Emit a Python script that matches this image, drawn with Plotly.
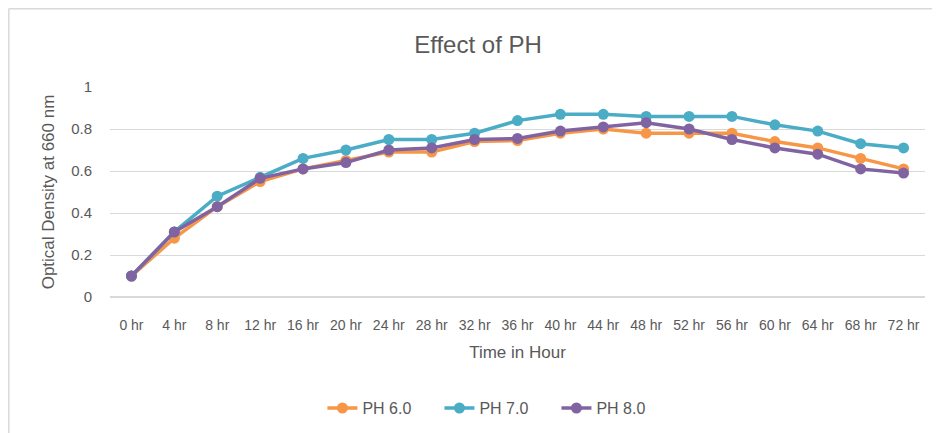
import plotly.graph_objects as go

hours = ["0 hr", "4 hr", "8 hr", "12 hr", "16 hr", "20 hr", "24 hr", "28 hr", "32 hr", "36 hr",
         "40 hr", "44 hr", "48 hr", "52 hr", "56 hr", "60 hr", "64 hr", "68 hr", "72 hr"]
ph6 = [0.10, 0.28, 0.43, 0.55, 0.61, 0.65, 0.69, 0.69, 0.74, 0.745, 0.78, 0.80, 0.78, 0.78, 0.78, 0.74, 0.71, 0.66, 0.61]
ph7 = [0.10, 0.31, 0.48, 0.57, 0.66, 0.70, 0.75, 0.75, 0.78, 0.84, 0.87, 0.87, 0.86, 0.86, 0.86, 0.82, 0.79, 0.73, 0.71]
ph8 = [0.10, 0.31, 0.43, 0.565, 0.61, 0.64, 0.70, 0.71, 0.75, 0.755, 0.79, 0.81, 0.83, 0.80, 0.75, 0.71, 0.68, 0.61, 0.59]
series_names = ["PH 6.0", "PH 7.0", "PH 8.0"]
colors = ["#F79646", "#4BACC6", "#8064A2"]
y_ticks = [0, 0.2, 0.4, 0.6, 0.8, 1]
y_tick_text = ["0", "0.2", "0.4", "0.6", "0.8", "1"]

FONT = "Liberation Sans Narrow, Liberation Sans, Arial, sans-serif"

fig = go.Figure()
for name, vals, col in zip(series_names, [ph6, ph7, ph8], colors):
    fig.add_trace(go.Scatter(
        x=hours, y=vals, name=name, mode="lines+markers",
        line=dict(color=col, width=3.5),
        marker=dict(color=col, size=11),
    ))

L, R, T, B = 102, 23, 79, 144
plot_w = 940 - L - R
plot_h = 433 - T - B

fig.update_layout(
    width=940, height=433,
    paper_bgcolor="white", plot_bgcolor="white",
    margin=dict(l=L, r=R, t=T, b=B),
    font=dict(family=FONT, color="#595959", size=14),
    title=dict(text="Effect of PH", x=0.5, xanchor="center", y=1 - 37 / 433, yanchor="middle",
               font=dict(size=24, color="#595959", family=FONT)),
    showlegend=True,
    legend=dict(orientation="h", x=0.476, xanchor="center", y=-0.529, yanchor="middle",
                entrywidth=72, entrywidthmode="pixels",
                font=dict(size=16, color="#595959", family=FONT)),
    xaxis=dict(type="category", range=[-0.5, 18.5], showgrid=False, showline=False,
               ticks="", tickfont=dict(size=14, color="#595959"), ticklabelstandoff=18,
               title=dict(text="Time in Hour", font=dict(size=17, color="#595959"), standoff=14)),
    yaxis=dict(range=[0, 1], tickvals=y_ticks, ticktext=y_tick_text, showgrid=True,
               gridcolor="#D9D9D9", gridwidth=1, zeroline=True, zerolinecolor="#D9D9D9",
               showline=False, ticks="", ticklabelstandoff=17,
               tickfont=dict(size=15, color="#595959"),
               title=dict(text="Optical Density at 660 nm", font=dict(size=17, color="#595959"), standoff=12)),
    shapes=[
        dict(type="line", xref="paper", yref="paper", x0=-L / plot_w + 0.001, x1=1.1,
             y0=1 + T / plot_h - 0.004, y1=1 + T / plot_h - 0.004,
             line=dict(color="#D9D9D9", width=1.5)),
        dict(type="line", xref="paper", yref="paper", x0=-L / plot_w + 0.001, x1=-L / plot_w + 0.001,
             y0=-0.8, y1=1 + T / plot_h - 0.004,
             line=dict(color="#D9D9D9", width=1.5)),
    ],
)

fig.write_html("out.html")
